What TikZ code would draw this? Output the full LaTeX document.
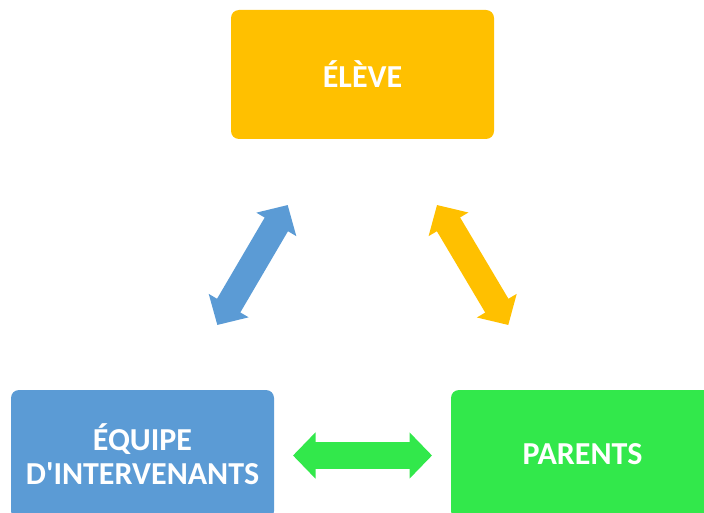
\documentclass[tikz,border=0pt]{standalone}
\usepackage{fontspec}
\setmainfont{Carlito}
\usetikzlibrary{arrows.meta}
\definecolor{cOrange}{HTML}{FFC000}
\definecolor{cBlue}{HTML}{5B9BD5}
\definecolor{cGreen}{HTML}{32E84B}
\tikzset{
  box/.style={rounded corners=8pt, minimum width=263pt, minimum height=129pt,
    inner sep=0pt, align=center, text=white,
    font=\bfseries\fontsize{32}{34}\selectfont},
  dblarrow/.style={line width=27pt,
    {Triangle[width=45pt,length=22.5pt]}-{Triangle[width=45pt,length=22.5pt]}}
}
\begin{document}
\begin{tikzpicture}[x=1pt,y=-1pt]
\useasboundingbox (0,0) rectangle (704,513);
\node[box, fill=cOrange] (eleve) at (362.5,74.5) {ÉLÈVE};
\node[box, fill=cBlue] (equipe) at (142.5,454.5) {ÉQUIPE\\D\textquotesingle INTERVENANTS};
\node[box, fill=cGreen] (parents) at (582.5,454.5) {PARENTS};
\coordinate (b1) at (217.3,325);
\coordinate (b2) at (287.7,205);
\coordinate (o1) at (437,205);
\coordinate (o2) at (508.3,325);
\coordinate (g1) at (293,455.5);
\coordinate (g2) at (432,455.5);
\draw[dblarrow, draw=cBlue, fill=cBlue] (b1) -- (b2);
\draw[dblarrow, draw=cOrange, fill=cOrange] (o1) -- (o2);
\draw[dblarrow, draw=cGreen, fill=cGreen] (g1) -- (g2);
\end{tikzpicture}
\end{document}
